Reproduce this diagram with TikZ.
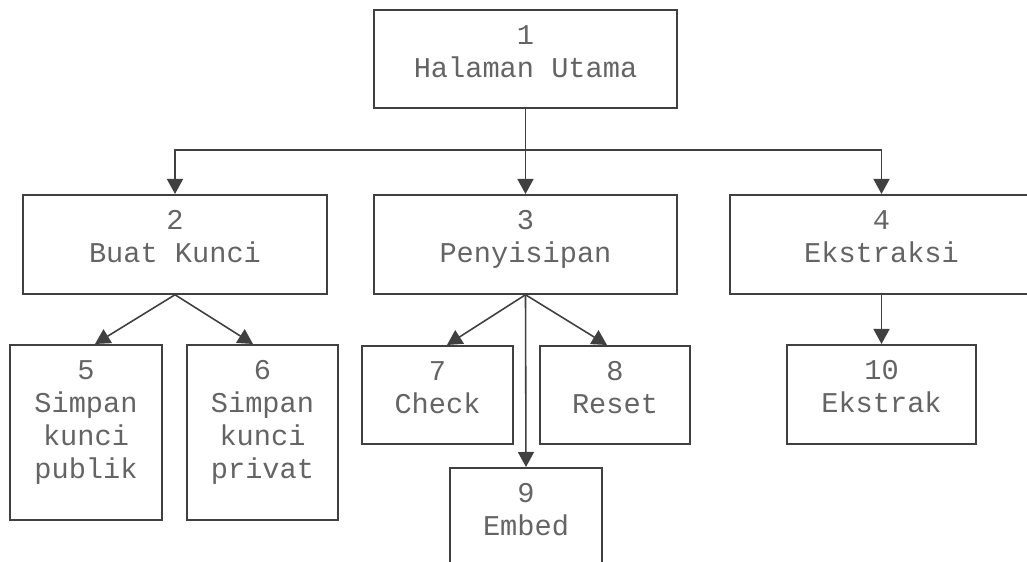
\documentclass[tikz,border=0pt]{standalone}
\usepackage{fontspec}
\setmonofont{Liberation Mono}
\usetikzlibrary{calc,positioning,arrows.meta}
\definecolor{linegray}{HTML}{404040}
\definecolor{textgray}{HTML}{646464}
\begin{document}
\begin{tikzpicture}[menu/.style={draw=linegray,line width=1pt,anchor=north,inner sep=0pt,align=center,text=textgray,font=\ttfamily\fontsize{16.3}{18.8}\selectfont},twoline/.style={text height=1.36cm},fourline/.style={text height=2.68cm},arr/.style={draw=linegray,line width=0.9pt,-{Triangle[length=0.3cm,width=0.32cm]}}]
              \useasboundingbox (0,0) rectangle (20.54,11.24);
              \clip (0,0) rectangle (20.54,11.24);
              \node[menu,twoline,minimum width=6.06cm,text depth=0.60cm] (b1) at (10.51,11.06) {1\\Halaman Utama};

              \node[menu,twoline,minimum width=6.08cm,text depth=0.62cm] (b2) at (3.50,7.36) {2\\Buat Kunci};
              \node[menu,twoline,minimum width=6.06cm,text depth=0.62cm] (b3) at (10.51,7.36) {3\\Penyisipan};
              \node[menu,twoline,minimum width=6.06cm,text depth=0.62cm] (b4) at (17.63,7.36) {4\\Ekstraksi};

              \node[menu,fourline,minimum width=3.04cm,text depth=0.82cm] (b5) at (1.72,4.36) {5\\Simpan\\kunci\\publik};
              \node[menu,fourline,minimum width=3.02cm,text depth=0.82cm] (b6) at (5.25,4.36) {6\\Simpan\\kunci\\privat};
              \node[menu,twoline,minimum width=3.02cm,text depth=0.60cm] (b7) at (8.75,4.34) {7\\Check};
              \node[menu,twoline,minimum width=3.00cm,text depth=0.60cm] (b8) at (12.30,4.34) {8\\Reset};
              \node[menu,twoline,minimum width=3.04cm,text depth=0.60cm] (b9) at (10.52,1.90) {9\\Embed};
              \node[menu,twoline,minimum width=3.78cm,text depth=0.62cm] (b10) at (17.63,4.36) {10\\Ekstrak};

              \coordinate (j) at ($(b1.south)+(0,-0.82)$);
              \draw[linegray,line width=0.9pt] (b1.south) -- (j);
              \draw[arr] (j) -| (b2.north);
              \draw[arr] (j) -- (b3.north);
              \draw[arr] (j) -| (b4.north);
              \draw[arr] (b2.south) -- ([xshift=0.18cm]b5.north);
              \draw[arr] (b2.south) -- ([xshift=-0.19cm]b6.north);
              \draw[arr] (b3.south) -- ([xshift=0.19cm]b7.north);
              \draw[arr] (b3.south) -- ([xshift=-0.16cm]b8.north);
              \draw[arr] (b3.south) -- (b9.north);
              \draw[arr] (b4.south) -- (b10.north);
            \end{tikzpicture}
\end{document}
